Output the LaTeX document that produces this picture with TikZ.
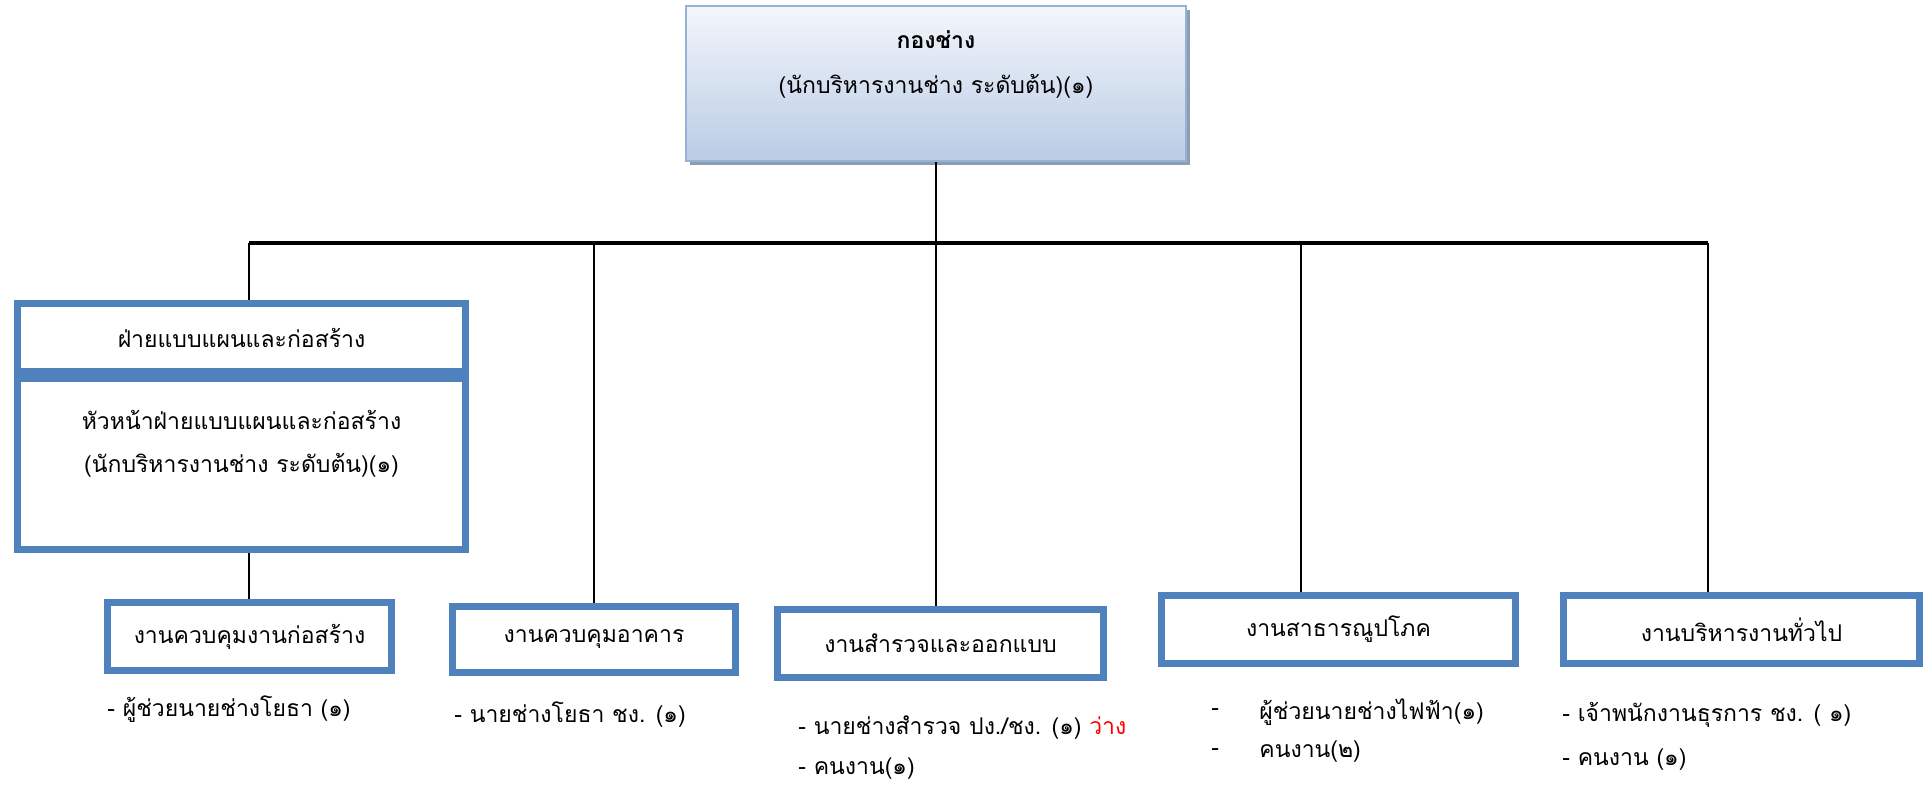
\documentclass[tikz,border=0pt]{standalone}
\usepackage{fontspec}
\newfontfamily\thaifont[Script=Thai]{Loma}
\usetikzlibrary{shadows}
\definecolor{boxblue}{HTML}{4F81BD}
\definecolor{chiefedge}{HTML}{95B3D7}
\definecolor{chieftop}{HTML}{F4F6FB}
\definecolor{chiefbottom}{HTML}{B9CCE5}
\definecolor{shadowgrey}{HTML}{8E9DB2}
\begin{document}
\begin{tikzpicture}[x=0.5pt, y=-0.5pt, font=\thaifont\fontsize{11.5}{13.5}\selectfont]
    % Define styles
    \tikzset{
        chiefbox/.style={rectangle, draw=chiefedge, line width=1pt, top color=chieftop, bottom color=chiefbottom, minimum width=250pt, minimum height=77.5pt, inner sep=0pt, drop shadow={shadow xshift=2pt, shadow yshift=-2pt, fill=shadowgrey, opacity=1}},
        unitbox/.style={rectangle, draw=boxblue, line width=3.5pt, fill=white, minimum height=34pt, inner sep=0pt},
        staff/.style={anchor=west, inner sep=0pt},
        link/.style={black, line width=1pt},
        bus/.style={black, line width=1.6pt},
    }
    \useasboundingbox (0,0) rectangle (1924,784);

    % Chief
    \node[chiefbox] (chief) at (936,83.5) {};
    \node[font=\thaifont\fontsize{11.5}{13.5}\selectfont\bfseries] (chieftitle) at (936,40) {กองช่าง};
    \node (chiefpos) at (936,86) {(นักบริหารงานช่าง ระดับต้น)(๑)};

    % Division
    \node[unitbox, minimum width=224pt] (div) at (241.5,337.5) {ฝ่ายแบบแผนและก่อสร้าง};
    \node[unitbox, minimum width=224pt, minimum height=85.5pt] (divhead) at (241.5,464) {};
    \node[align=center] (divheadtxt) at (241.5,443.5) {หัวหน้าฝ่ายแบบแผนและก่อสร้าง\\[8pt](นักบริหารงานช่าง ระดับต้น)(๑)};

    % Units
    \node[unitbox, minimum width=142pt] (unit1) at (249.5,636.5) {งานควบคุมงานก่อสร้าง};
    \node[unitbox, minimum width=141.5pt, minimum height=33pt] (unit2) at (594,639.5) {งานควบคุมอาคาร};
    \node[unitbox, minimum width=163pt] (unit3) at (940.5,643.5) {งานสำรวจและออกแบบ};
    \node[unitbox, minimum width=177pt] (unit4) at (1338.5,629.5) {งานสาธารณูปโภค};
    \node[unitbox, minimum width=178pt] (unit5) at (1741.5,629.5) {งานบริหารงานทั่วไป};

    % Staff
    \node[staff] (staff1) at (107,709) {- ผู้ช่วยนายช่างโยธา (๑)};
    \node[staff] (staff2) at (454,715) {- นายช่างโยธา ชง. (๑)};
    \node[staff] (staff3a) at (798,728) {- นายช่างสำรวจ ปง./ชง. (๑) \textcolor{red}{ว่าง}};
    \node[staff] (staff3b) at (798,769) {- คนงาน(๑)};
    \node[staff] (dash4a) at (1211,712) {-};
    \node[staff] (staff4a) at (1259,712) {ผู้ช่วยนายช่างไฟฟ้า(๑)};
    \node[staff] (dash4b) at (1211,752) {-};
    \node[staff] (staff4b) at (1259,752) {คนงาน(๒)};
    \node[staff] (staff5a) at (1562,715) {- เจ้าพนักงานธุรการ ชง. ( ๑)};
    \node[staff] (staff5b) at (1562,760) {- คนงาน (๑)};

    % Connectors
    \coordinate (busL) at (249,243);
    \coordinate (busR) at (1708,243);
    \coordinate (drop4) at (1301,243);
    \draw[bus] (busL) -- (busR);
    \draw[link] (chief.south) -- (chief.south |- busL);
    \draw[link] (busL) -- (busL |- div.north);
    \draw[link] (busL |- divhead.south) -- (busL |- unit1.north);
    \draw[link] (unit2.north |- busL) -- (unit2.north);
    \draw[link] (chief.south |- busL) -- (chief.south |- unit3.north);
    \draw[link] (drop4) -- (drop4 |- unit4.north);
    \draw[link] (busR) -- (busR |- unit5.north);
\end{tikzpicture}
\end{document}
